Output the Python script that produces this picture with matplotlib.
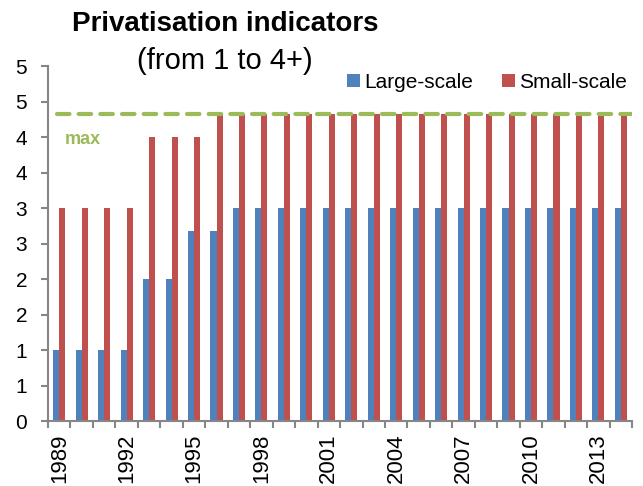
import numpy as np
import matplotlib.pyplot as plt

plt.rcParams['font.family'] = ['Liberation Sans', 'DejaVu Sans']

years = list(range(1989, 2015))
large_scale = [1, 1, 1, 1, 2, 2, 2.67, 2.67] + [3] * 18
small_scale = [3, 3, 3, 3, 4, 4, 4] + [4.33] * 19
max_level = 4.33
y_ticks = [0, 0.5, 1, 1.5, 2, 2.5, 3, 3.5, 4, 4.5, 5]
y_labels = ['0', '1', '1', '2', '2', '3', '3', '4', '4', '5', '5']

blue = '#4F81BD'
red = '#C0504D'
green = '#9BBB59'
grey = '#868686'

fig = plt.figure(figsize=(6.43, 4.86), dpi=100)
ax = fig.add_axes([0.0747, 0.1337, 0.9083, 0.7303])

x = np.arange(len(years))
w = 0.27
ax.bar(x - w / 2, large_scale, w, color=blue, label='Large-scale')
ax.bar(x + w / 2, small_scale, w, color=red, label='Small-scale')

# "max" reference line
ax.axhline(max_level, xmin=0.015, xmax=1, color=green, lw=3,
           dashes=(3.0, 2.2), dash_capstyle='round', zorder=3)
ax.text(0.25, 3.97, 'max', color=green, fontsize=13, fontweight='bold',
        va='center', ha='left')

ax.set_xlim(-0.5, len(years) - 0.5)
ax.set_ylim(0, 5)

ax.set_yticks(y_ticks)
ax.set_yticklabels(y_labels, fontsize=15)

ax.set_xticks(np.arange(len(years) + 1) - 0.5)
ax.set_xticklabels([])
ax.set_xticks(x[::3], minor=True)
ax.set_xticklabels([str(y) for y in years[::3]], minor=True,
                   rotation=90, fontsize=16)
ax.tick_params(axis='x', which='minor', length=0, pad=9)
ax.tick_params(axis='both', which='major', length=5, width=1.5, color=grey)
ax.tick_params(axis='y', pad=10)

for s in ['top', 'right']:
    ax.spines[s].set_visible(False)
for s in ['left', 'bottom']:
    ax.spines[s].set_color(grey)
    ax.spines[s].set_linewidth(1.5)

ax.legend(loc='center right', bbox_to_anchor=(1.024, 0.955), ncol=2,
          frameon=False, fontsize=15, handlelength=0.6, handleheight=0.6,
          handletextpad=0.22, columnspacing=1.4)

fig.text(0.35, 0.95, 'Privatisation indicators', ha='center', va='center',
         fontsize=20, fontweight='bold')
fig.text(0.35, 0.874, '(from 1 to 4+)', ha='center', va='center', fontsize=21)

fig.savefig('out.png', dpi=100)
